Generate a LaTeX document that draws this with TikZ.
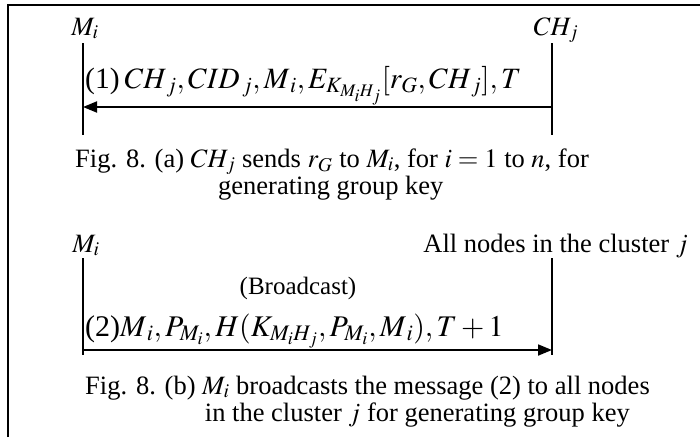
\documentclass[tikz,border=0pt]{standalone}
\usepackage{mathptmx}
\usepackage{fontspec}
\setmainfont{Liberation Serif}
\usetikzlibrary{arrows.meta}

\begin{document}
\begin{tikzpicture}[x=1pt,y=-1pt,
  lbl/.style={inner sep=0pt, font=\fontsize{26.5}{30}\selectfont},
  msg/.style={inner sep=0pt, font=\fontsize{30}{34}\selectfont},
  life/.style={line width=1.6pt},
  msgarrow/.style={line width=1.8pt, -{Triangle[length=14pt,width=11pt]}},
  frame/.style={line width=2pt}]

\useasboundingbox (0,0) rectangle (700,437);
\draw[frame] (8,437) -- (8,5) -- (700,5);

% ---- (a) cluster head to member ----
\node[lbl, anchor=base] (mi1) at (85,35) {$M_i$};
\node[lbl, anchor=base] (ch1) at (556,35) {$CH_j$};
\coordinate (l1t) at (83,43);  \coordinate (l1b) at (83,135);
\coordinate (r1t) at (552,43); \coordinate (r1b) at (552,135);
\draw[life] (l1t) -- (l1b);
\draw[life] (r1t) -- (r1b);
\coordinate (a1s) at (552,107); \coordinate (a1e) at (83,107);
\draw[msgarrow] (a1s) -- (a1e);
\node[msg, anchor=base west, font=\fontsize{29.5}{34}\selectfont] (m1) at (85,88)
  {(1)\,$CH_{\,j},CID_{\,j},M_{\,i},E_{K_{M_iH_j}}[r_G,CH_{\,j}],T$};
\node[lbl, anchor=base west] (capa1) at (75,167)
  {Fig. 8. (a) $CH_j$ sends $r_G$ to $M_i$, for $i=1$ to $n$, for};
\node[lbl, anchor=base west] (capa2) at (218,194) {generating group key};

% ---- (b) member broadcast ----
\node[lbl, anchor=base] (mi2) at (86,252) {$M_i$};
\node[lbl, anchor=base east] (all) at (688,252) {All nodes in the cluster $j$};
\coordinate (l2t) at (83,258);  \coordinate (l2b) at (83,355);
\coordinate (r2t) at (552,258); \coordinate (r2b) at (552,355);
\draw[life] (l2t) -- (l2b);
\draw[life] (r2t) -- (r2b);
\coordinate (a2s) at (83,350); \coordinate (a2e) at (552,350);
\draw[msgarrow] (a2s) -- (a2e);
\node[lbl, anchor=base, font=\fontsize{25}{30}\selectfont] (bc) at (298,294) {(Broadcast)};
\node[msg, anchor=base west] (m2) at (85,336)
  {(2)$M_{\,i},P_{M_i},H(K_{M_iH_j},P_{M_i},M_{\,i}),T+1$};
\node[lbl, anchor=base west] (capb1) at (85,394)
  {Fig. 8. (b) $M_i$ broadcasts the message (2) to all nodes};
\node[lbl, anchor=base east] (capb2) at (630,421)
  {in the cluster $j$ for generating group key};
\end{tikzpicture}
\end{document}
